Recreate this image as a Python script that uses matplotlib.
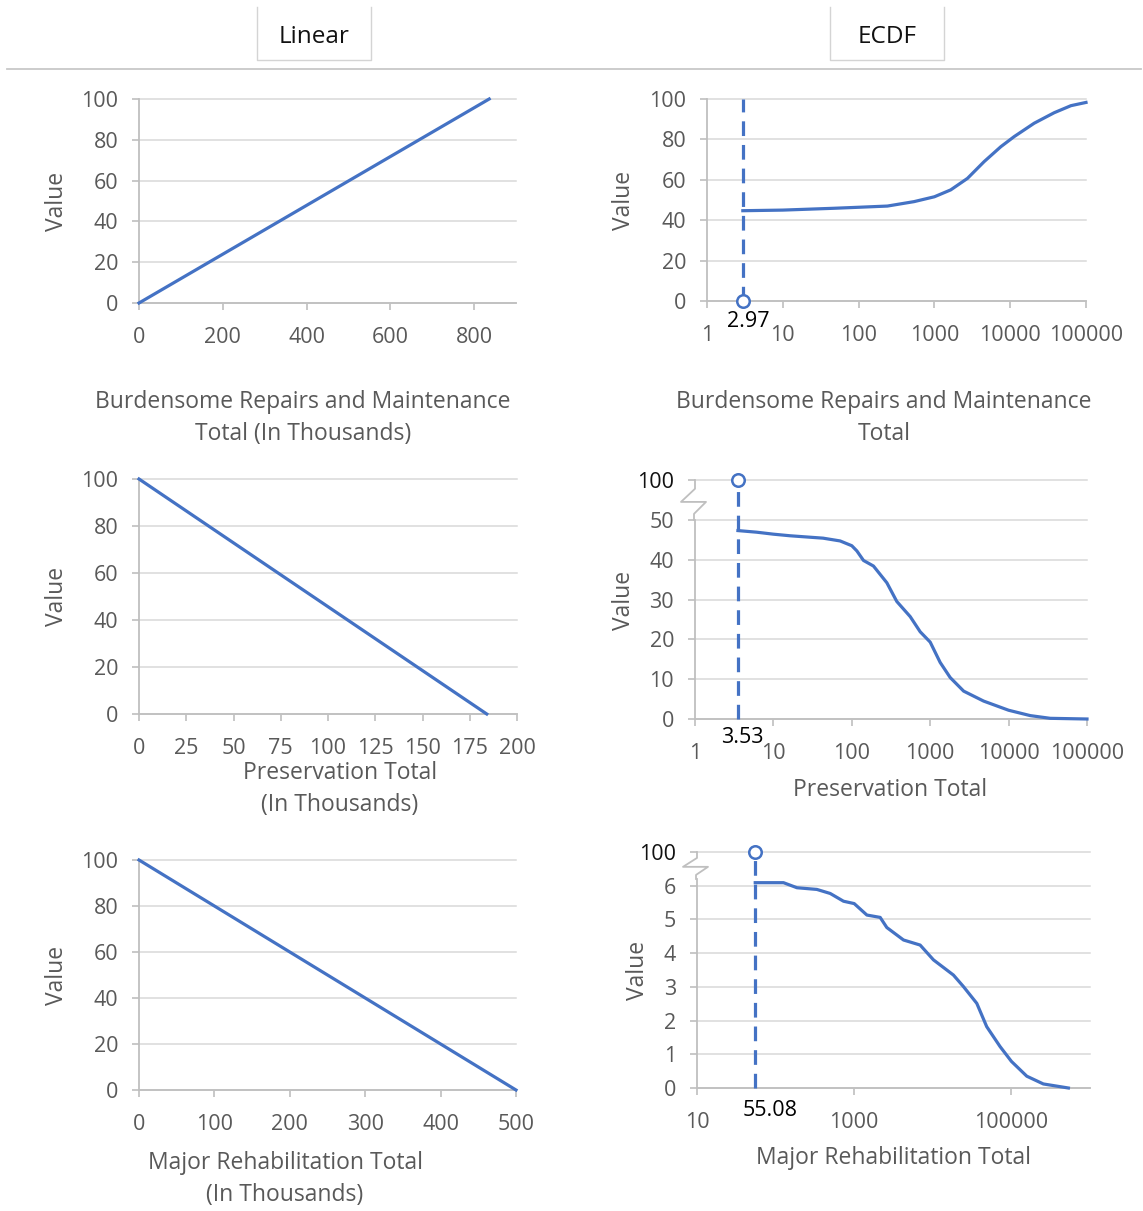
import matplotlib
matplotlib.use("Agg")
import matplotlib.pyplot as plt
from matplotlib.lines import Line2D
from matplotlib.transforms import blended_transform_factory
import numpy as np

# ---------------- data ----------------
# Linear transforms (value vs. total, in thousands)
brm_lin_x = [0, 836]
brm_lin_y = [0, 100]
pres_lin_x = [0, 184]
pres_lin_y = [100, 0]
mr_lin_x = [0, 500]
mr_lin_y = [100, 0]

# ECDF transforms (value vs. total, log scale)
brm_threshold = 2.97
brm_ecdf_x = [2.97, 10, 47, 100, 240, 540, 1000, 1640, 2730, 4530, 7530,
              11300, 20700, 38000, 63300, 100000]
brm_ecdf_y = [44.7, 45.0, 45.9, 46.4, 47.0, 49.2, 51.6, 55.0, 60.7, 69.0,
              76.4, 81.4, 88.0, 93.2, 96.7, 98.3]

pres_threshold = 3.53
pres_ecdf_x = [3.53, 6.1, 10, 16.3, 43, 71, 100, 116, 141, 189, 280, 375,
               556, 745, 1000, 1340, 1800, 2670, 4800, 10000, 18900, 34000,
               100000]
pres_ecdf_y = [47.3, 46.9, 46.4, 46.0, 45.4, 44.7, 43.5, 42.2, 39.8, 38.4,
               34.2, 29.5, 25.7, 21.9, 19.3, 14.2, 10.4, 7.0, 4.5, 2.2, 0.85,
               0.17, 0]

mr_threshold = 55.08
mr_ecdf_x = [55.08, 126, 187, 335, 495, 731, 1000, 1450, 2140, 2600, 4240,
             6900, 10200, 18300, 24500, 36300, 48500, 71700, 100000, 157000,
             255000, 531000]
mr_ecdf_y = [6.09, 6.09, 5.94, 5.89, 5.77, 5.54, 5.47, 5.13, 5.06, 4.76, 4.39,
             4.24, 3.80, 3.35, 3.01, 2.51, 1.82, 1.23, 0.79, 0.35, 0.12, 0]

brm_lin_xticks = [0, 200, 400, 600, 800]
pres_lin_xticks = [0, 25, 50, 75, 100, 125, 150, 175, 200]
mr_lin_xticks = [0, 100, 200, 300, 400, 500]
lin_yticks = [0, 20, 40, 60, 80, 100]
log_xticks = [1, 10, 100, 1000, 10000, 100000]
mr_log_xticks = [10, 1000, 100000]
pres_ecdf_yticks = [0, 10, 20, 30, 40, 50]
mr_ecdf_yticks = [0, 1, 2, 3, 4, 5, 6]
top_value = 100

# ---------------- style ----------------
FONT = ["Open Sans", "DejaVu Sans"]
plt.rcParams["font.family"] = FONT
BLUE = "#4472C4"
GRID = "#D9D9D9"
AXIS = "#BFBFBF"
TXT = "#595959"
TICK_FS = 15.5
LABEL_FS = 16.5

W, H = 1143, 1211
fig = plt.figure(figsize=(W / 100, H / 100), dpi=100)


def rect(l, t, r, b):
    return [l / W, 1 - b / H, (r - l) / W, (b - t) / H]


def style_axes(ax):
    for s in ("top", "right"):
        ax.spines[s].set_visible(False)
    for s in ("left", "bottom"):
        ax.spines[s].set_color(AXIS)
        ax.spines[s].set_linewidth(1.3)
    ax.tick_params(axis="both", which="major", length=5, width=1.2,
                   color=AXIS, labelcolor=TXT, labelsize=TICK_FS)
    ax.tick_params(axis="y", pad=10)
    ax.tick_params(axis="x", pad=12)
    ax.tick_params(which="minor", length=0)
    ax.grid(True, axis="y", color=GRID, lw=1.1, zorder=0)
    ax.set_axisbelow(True)
    for gl in ax.get_ygridlines():
        gl.set_clip_on(False)


def ylab(x_px, y_px):
    fig.text(x_px / W, 1 - y_px / H, "Value", rotation=90, ha="center",
             va="center", fontsize=LABEL_FS, color=TXT)


def xlab(lines, cx, cy):
    for i, s in enumerate(lines):
        fig.text(cx / W, 1 - (cy + 32 * i) / H, s, ha="center", va="center",
                 fontsize=LABEL_FS, color=TXT)


def draw_break(ax, top_pos, low_pos, width_px):
    # zig-zag mark on the value axis between the last regular tick and the top tick
    tr = blended_transform_factory(ax.transAxes, ax.transData)
    span = top_pos - low_pos
    xs = np.array([0, 0, -14, 11, -1, -1]) / width_px
    ys = [top_pos, top_pos - 0.22 * span, top_pos - 0.55 * span,
          top_pos - 0.55 * span, top_pos - 0.85 * span, low_pos]
    ax.add_line(Line2D(xs, ys, transform=tr, color=AXIS, lw=1.3,
                       clip_on=False))


def threshold(ax, x0, ytop, marker_y, label, dx, dy):
    ax.plot([x0, x0], [0, ytop], color=BLUE, lw=2.3, ls=(0, (4.6, 2.8)),
            clip_on=False, zorder=3)
    ax.plot([x0], [marker_y], marker="o", ms=9, mfc="white", mec=BLUE,
            mew=1.8, clip_on=False, zorder=5)
    ax.annotate(label, xy=(x0, 0), xytext=(dx, dy), textcoords="offset points",
                ha="center", va="center", fontsize=TICK_FS, color="#000000",
                annotation_clip=False, zorder=6)


# ---------------- header ----------------
for cx, s in ((314, "Linear"), (887, "ECDF")):
    l, r, t, b = cx - 57, cx + 57, 7, 60
    fig.add_artist(Line2D([l / W, l / W, r / W, r / W],
                          [1 - t / H, 1 - b / H, 1 - b / H, 1 - t / H],
                          transform=fig.transFigure, color="#D4D4D4", lw=1.0))
    fig.text(cx / W, 1 - 37 / H, s, ha="center", va="center", fontsize=17.5,
             color="#111111")
fig.add_artist(Line2D([7 / W, 1141 / W], [1 - 69 / H, 1 - 69 / H],
                      transform=fig.transFigure, color="#C8C8C8", lw=1.3))

# ---------------- linear panels ----------------
ax1 = fig.add_axes(rect(139, 99, 516, 303))
style_axes(ax1)
ax1.plot(brm_lin_x, brm_lin_y, color=BLUE, lw=2.3, clip_on=False, zorder=3)
ax1.set_xlim(0, 900)
ax1.set_ylim(0, 100)
ax1.set_xticks(brm_lin_xticks)
ax1.set_yticks(lin_yticks)
ylab(57, 201)
xlab(["Burdensome Repairs and Maintenance", "Total (In Thousands)"], 303, 402)

ax3 = fig.add_axes(rect(139, 479, 517, 714))
style_axes(ax3)
ax3.plot(pres_lin_x, pres_lin_y, color=BLUE, lw=2.3, clip_on=False, zorder=3)
ax3.set_xlim(0, 200)
ax3.set_ylim(0, 100)
ax3.set_xticks(pres_lin_xticks)
ax3.set_yticks(lin_yticks)
ylab(57, 596)
xlab(["Preservation Total", "(In Thousands)"], 340, 773)

ax5 = fig.add_axes(rect(139, 860, 516, 1090))
style_axes(ax5)
ax5.plot(mr_lin_x, mr_lin_y, color=BLUE, lw=2.3, clip_on=False, zorder=3)
ax5.set_xlim(0, 500)
ax5.set_ylim(0, 100)
ax5.set_xticks(mr_lin_xticks)
ax5.set_yticks(lin_yticks)
ylab(57, 975)
xlab(["Major Rehabilitation Total", "(In Thousands)"], 285, 1163)


def plain_log(ax, ticks):
    ax.set_xscale("log")
    ax.set_xticks(ticks)
    ax.set_xticklabels([str(t) for t in ticks])
    ax.xaxis.set_minor_locator(matplotlib.ticker.NullLocator())


# ---------------- ECDF panels ----------------
ax2 = fig.add_axes(rect(707, 99, 1086, 301))
style_axes(ax2)
plain_log(ax2, log_xticks)
ax2.set_xlim(1, 100000)
ax2.set_ylim(0, 100)
ax2.set_yticks(lin_yticks)
ax2.plot(brm_ecdf_x, brm_ecdf_y, color=BLUE, lw=2.3, clip_on=False, zorder=4)
threshold(ax2, brm_threshold, 100, 0, f"{brm_threshold:.2f}", 4, -15)
ylab(624, 200)
xlab(["Burdensome Repairs and Maintenance", "Total"], 884, 402)

# Preservation: value axis broken between 50 and 100
pres_top = 60
ax4 = fig.add_axes(rect(695, 480, 1087, 719))
style_axes(ax4)
plain_log(ax4, log_xticks)
ax4.set_xlim(1, 100000)
ax4.set_ylim(0, pres_top)
ax4.set_yticks(pres_ecdf_yticks + [pres_top])
ax4.set_yticklabels([str(v) for v in pres_ecdf_yticks] + [str(top_value)])
ax4.get_yticklabels()[-1].set_color("#111111")
ax4.spines["left"].set_bounds(0, pres_ecdf_yticks[-1])
draw_break(ax4, pres_top, pres_ecdf_yticks[-1], 392)
ax4.plot(pres_ecdf_x, pres_ecdf_y, color=BLUE, lw=2.3, clip_on=False, zorder=4)
threshold(ax4, pres_threshold, pres_top, pres_top, f"{pres_threshold:.2f}", 3, -13)
ylab(624, 600)
xlab(["Preservation Total"], 890, 790)

# Major rehabilitation: value axis broken between 6 and 100
mr_top = 7
ax6 = fig.add_axes(rect(697, 852, 1090, 1088))
style_axes(ax6)
plain_log(ax6, mr_log_xticks)
ax6.set_xlim(10, 1000000)
ax6.set_ylim(0, mr_top)
ax6.set_yticks(mr_ecdf_yticks + [mr_top])
ax6.set_yticklabels([str(v) for v in mr_ecdf_yticks] + [str(top_value)])
ax6.get_yticklabels()[-1].set_color("#111111")
ax6.spines["left"].set_bounds(0, 6.2)
draw_break(ax6, mr_top, 6.2, 393)
ax6.plot(mr_ecdf_x, mr_ecdf_y, color=BLUE, lw=2.3, clip_on=False, zorder=4)
threshold(ax6, mr_threshold, mr_top, mr_top, f"{mr_threshold:.2f}", 11, -16)
ylab(638, 970)
xlab(["Major Rehabilitation Total"], 893, 1158)

fig.savefig("out.png", dpi=100, facecolor="white")
